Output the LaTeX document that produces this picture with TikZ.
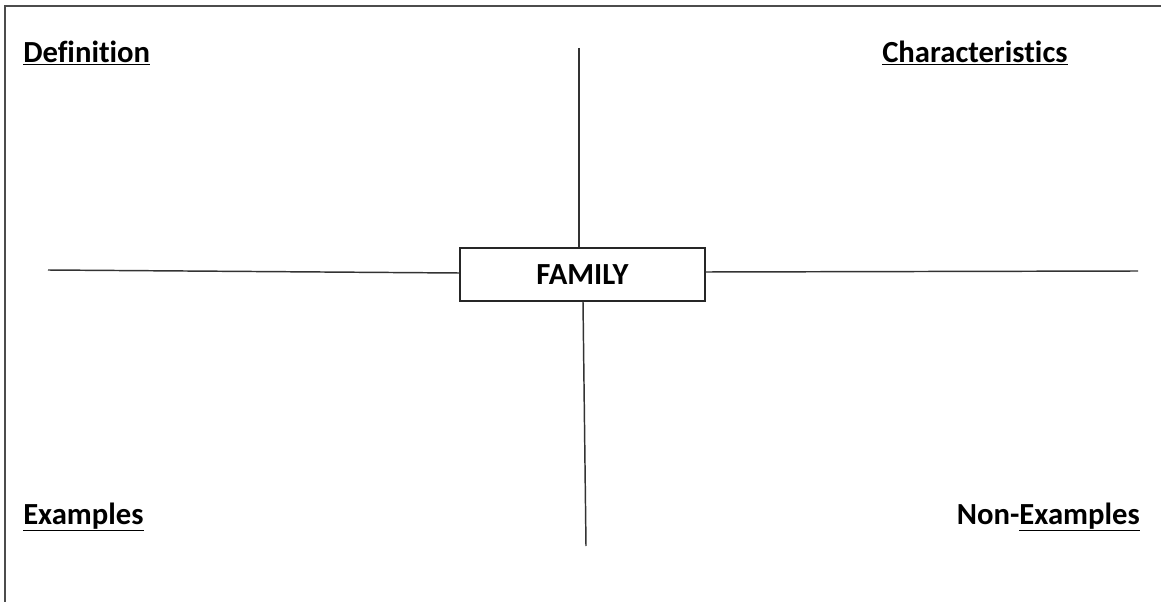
\documentclass[tikz,border=0pt]{standalone}
\usepackage{fontspec}
\setmainfont{Carlito}[Ligatures={NoCommon}]
\begin{document}
\begin{tikzpicture}[
    x=0.75pt, y=-0.75pt,
    every node/.style={font=\fontsize{23}{27}\selectfont\bfseries},
    title/.style={anchor=base west, inner sep=0pt},
    arm/.style={draw=black!80, line width=1.1pt},
    frame/.style={draw=black!70, line width=1.6pt},
    centre/.style={draw=black!85, line width=1.1pt, minimum width=183.75pt, minimum height=39.75pt, inner sep=0pt}
]
\useasboundingbox (0,0) rectangle (1161,602);
\draw[frame] (5,602) -- (5,6) -- (1161,6);
\node[centre] (fam) at (582.5,274.5) {FAMILY};
\node[title] (def) at (23,62.5) {\underline{Definition}};
\node[title] (char) at (882,62.5) {\underline{Characteristics}};
\node[title] (ex) at (23,524) {\underline{Examples}};
\node[title, anchor=base east] (nonex) at (1140,524) {Non-\underline{Examples}};
\coordinate (up) at (579,48);
\coordinate (down) at (586,546);
\coordinate (left) at (48,270);
\coordinate (right) at (1138,271);
\draw[arm] (up) -- (up |- fam.north);
\draw[arm] (fam.south -| 583,0) -- (down);
\draw[arm] (left) -- (fam.west |- 0,273);
\draw[arm] (fam.east |- 0,272) -- (right);
\end{tikzpicture}
\end{document}
